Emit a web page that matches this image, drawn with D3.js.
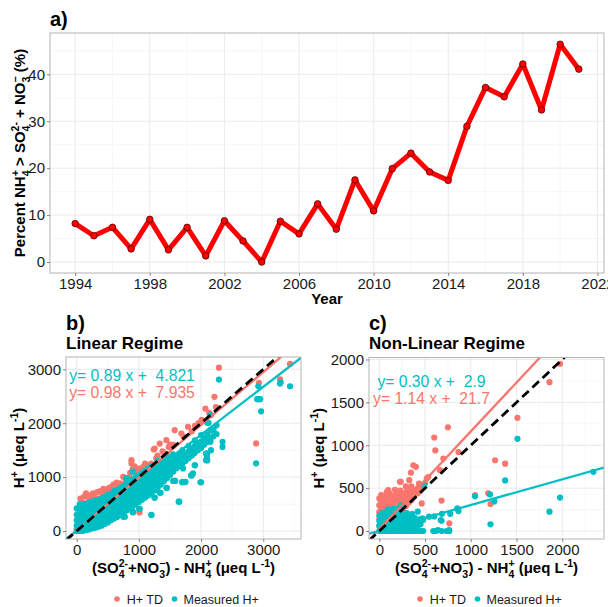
<!DOCTYPE html>
<html>
<head>
<meta charset="utf-8">
<script src="https://cdn.jsdelivr.net/npm/d3@7"></script>
<style>
  body { margin: 0; background: #fff; }
  text { font-family: "Liberation Sans", Arial, sans-serif; white-space: pre; }
</style>
</head>
<body>
<div id="chart"></div>
<script>
// ---- panel a: yearly percentage ----
const years = [1994, 1995, 1996, 1997, 1998, 1999, 2000, 2001, 2002, 2003, 2004, 2005, 2006, 2007,
               2008, 2009, 2010, 2011, 2012, 2013, 2014, 2015, 2016, 2017, 2018, 2019, 2020, 2021];
const percentNH4 = [8.2, 5.6, 7.4, 2.8, 9.1, 2.6, 7.4, 1.3, 8.8, 4.5, 0.0, 8.7, 6.0, 12.4,
                    7.0, 17.5, 10.9, 19.9, 23.2, 19.2, 17.4, 28.9, 37.2, 35.2, 42.2, 32.4, 46.4, 41.1];
const yearTicks = [1994, 1998, 2002, 2006, 2010, 2014, 2018, 2022];
const percentTicks = [0, 10, 20, 30, 40];

// ---- panel b: linear regime ----
const tdLinear = [[0,30],[20,250],[30,330],[50,350],[60,600],[80,390],[100,450],[120,520],[120,640],[150,700],
  [160,480],[180,660],[200,420],[200,600],[225,593],[250,520],[260,700],[280,640],[320,480],[330,720],[350,600],
  [373,512],[380,740],[400,560],[420,680],[430,780],[453,636],[480,760],[500,640],[520,800],[534,728],[560,820],
  [590,860],[600,700],[620,780],[640,900],[650,800],[694,883],[700,760],[748,1006],[780,900],[800,950],
  [850,1000],[860,1080],[881,1315],[881,1253],[900,1150],[930,1200],[950,1100],[988,1160],[1010,345],[1040,1150],
  [1068,1191],[1100,1250],[1122,1222],[1150,1200],[1200,1250],[1239,1512],[1255,1531],[1280,1350],[1300,1400],
  [1335,1623],[1380,1480],[1400,1450],[1442,1685],[1480,1560],[1506,1605],[1550,1600],[1576,1870],[1640,1285],
  [1683,1809],[1720,1750],[1790,1932],[1850,1850],[1900,1950],[1960,2000],[2010,2060],[2070,2270],[2113,1747],
  [2130,2190],[2160,2150],[2215,2490],[2240,2300],[2287,3030],[2885,1625],[2930,2750],[3270,2815],[3430,3100]];
const measLinearCols = [[0,[0,100,200,300,420]],[50,[0,100,200,300,400,500]],[100,[0,100,200,300,400,500]],
  [150,[20,120,220,320,420,500]],[200,[30,130,230,330,430,530]],[250,[50,150,250,350,450,540]],
  [300,[60,160,260,360,460,570]],[350,[80,180,280,380,480,580]],[400,[100,200,300,400,500,610]],
  [450,[130,230,330,430,530,630]],[500,[160,260,360,460,560,670]],[550,[200,300,400,500,600,690]],
  [600,[230,330,430,530,630,740]],[650,[260,360,460,560,660,760]],[700,[300,400,500,600,700,800]],
  [750,[265,340,440,540,640,740,840]],[800,[380,480,580,680,780,880,980]],[850,[420,520,620,720,820,920]],
  [900,[350,460,560,660,760,860,960,1100]],[950,[500,600,700,800,900,1000]],[1000,[410,540,640,740,840,940,1040]],
  [1050,[580,680,780,880,980,1080]],[1100,[620,720,820,920,1020,1120]],[1150,[660,760,860,960,1060,1160]],
  [1200,[300,700,800,900,1000,1100,1200]],[1250,[620,750,850,950,1050,1150]],[1300,[800,900,1000,1100,1200,1300]],
  [1350,[710,860,960,1060,1160,1260]],[1400,[920,1020,1120,1220,1320]],[1450,[800,980,1080,1180,1280,1400]],
  [1500,[1040,1140,1240,1340]],[1550,[930,1100,1200,1300,1420]],[1600,[1160,1260,1360]],[1650,[545,1200,1320,1440]],
  [1700,[910,1250,1380,1500]],[1750,[910,1300,1420]],[1800,[1350,1480,1580]],[1850,[1030,1400,1520]],
  [1900,[1220,1450,1580,1680]],[1950,[1500,1620]],[2000,[905,1540,1660,1780]],[2050,[1600,1720]],
  [2100,[1310,1440,1650,1790,2010]],[2150,[1700,1870,2150]],[2200,[1760,1880]],[2250,[1800,1960]]];
const measLinearExtra = [[2287,2810],[3430,2685],[3270,2735],[3280,2760],[2920,2685],[2900,2445],[2930,2445],
  [2950,2445],[2965,2220],[2885,1255],[2345,1655],[2345,1560],[2140,1698],[2150,1654],[2160,1500],[2078,1438],
  [2078,1315],[1990,905],[1900,1220],[1730,905],[1695,905],[1585,930],[1640,545],[1838,1031],[2120,2006],
  [2158,1870],[1976,1543],[2094,1376],[1870,1480],[1870,1430],[1693,1253],[1202,296],[775,265],[908,350],
  [1015,413],[1255,617],[1335,710],[1442,802],[1870,1068],[1710,1160]];
const linearFits = [{slope: 0.98, icpt: 7.935, label: "y= 0.98 x +  7.935"},
                    {slope: 0.89, icpt: 4.821, label: "y= 0.89 x +  4.821"}];
const linearTicksX = [0, 1000, 2000, 3000];
const linearTicksY = [0, 1000, 2000, 3000];

// ---- panel c: non-linear regime ----
const tdNonLinearCols = [[0,[60,140,220,300,380]],[20,[100,180,260,340,420]],[50,[80,160,240,320,400]],
  [80,[120,200,280,360,450]],[110,[140,220,300,380,440]],[140,[160,240,320,400]],[170,[180,260,340,420,480]],
  [200,[200,280,360,440]],[230,[230,310,390,470]],[260,[260,340,420]],[290,[290,370,450,520]],[320,[330,410,480]],
  [350,[360,440,520]],[380,[400,470]],[420,[440,500]],[450,[470,530]]];
const tdNonLinearExtra = [[1975,1950],[1860,1735],[1510,1320],[750,1210],[600,1090],[612,940],[865,920],[700,845],
  [1265,825],[1375,785],[372,767],[400,748],[345,680],[518,612],[535,630],[226,573],[98,477],[1046,420],[1190,440],
  [1215,315],[680,355],[765,90],[463,322],[663,709],[500,560],[434,554],[327,593],[234,573],[87,457]];
const measNonLinearCols = [[0,[0,60,120,180]],[30,[0,50,100,150,210]],[60,[0,50,100,150,200]],
  [90,[0,50,100,150,200,250]],[120,[0,50,100,150,200]],[150,[0,50,100,150,200,260]],[180,[0,50,100,150,200,250]],
  [210,[0,50,100,150,200,265]],[240,[0,50,100,150,200,300]],[270,[0,50,100,150,200]],[300,[0,50,100,150,210]],
  [330,[0,50,100,160]],[360,[0,40,90,140,200]],[390,[0,50,110,150]],[420,[0,60,120,225]],[450,[0,80,140]],
  [480,[0,130]]];
const measNonLinearExtra = [[1510,1075],[1375,590],[2340,690],[1975,390],[1860,225],[1046,405],[1210,427],
  [1257,345],[1215,78],[865,233],[775,200],[680,120],[684,200],[590,0],[618,0],[682,0],[735,0],[765,0],
  [490,530],[600,170],[543,167],[671,128],[762,12],[640,12],[470,148],[852,264]];
const nonLinearFits = [{slope: 1.14, icpt: 21.7, label: "y= 1.14 x +  21.7"},
                       {slope: 0.30, icpt: 2.9, label: "y= 0.30 x +  2.9"}];
const nonLinearTicksX = [0, 500, 1000, 1500, 2000];
const nonLinearTicksY = [0, 500, 1000, 1500, 2000];

const seriesNames = ["H+ TD", "Measured H+"];
const seriesColors = ["#F8766D", "#00BFC4"];

const flatten = cols => cols.flatMap(([x, ys]) => ys.map(y => [x, y]));

const svg = d3.select("#chart").append("svg")
    .attr("width", 608)
    .attr("height", 607);

// text with stacked sub/superscripts
function rich(text, parts, fs) {
    const small = fs * 0.7, subShift = fs * 0.3, supShift = -fs * 0.42;
    let cur = 0, pad = 0;
    parts.forEach(p => {
        if (typeof p === "string") {
            text.append("tspan").attr("dy", -cur).attr("dx", pad).text(p);
            cur = 0; pad = 0;
        } else {
            const [sb, sp] = p;
            let w = 0;
            if (sb) {
                const t = text.append("tspan").attr("font-size", small).attr("dy", subShift - cur).attr("dx", pad).text(sb);
                cur = subShift; pad = 0;
                w = t.node().getComputedTextLength();
            }
            if (sp) {
                const t = text.append("tspan").attr("font-size", small).attr("dy", supShift - cur).attr("dx", sb ? -w : pad).text(sp);
                cur = supShift;
                const ws = t.node().getComputedTextLength();
                pad = sb ? Math.max(0, w - ws) : 0;
            }
        }
    });
}

function makePanel(id, box, xDom, yDom, xMaj, xMin, yMaj, yMin) {
    const x = d3.scaleLinear().domain(xDom).range([box.l, box.r]);
    const y = d3.scaleLinear().domain(yDom).range([box.b, box.t]);
    const g = svg.append("g");

    g.append("rect")
        .attr("x", box.l).attr("y", box.t)
        .attr("width", box.r - box.l).attr("height", box.b - box.t)
        .attr("fill", "#fff");

    g.selectAll(".vmin").data(xMin).enter().append("line")
        .attr("x1", d => x(d)).attr("x2", d => x(d)).attr("y1", box.t).attr("y2", box.b)
        .attr("stroke", "#F2F2F2").attr("stroke-width", 0.6);
    g.selectAll(".hmin").data(yMin).enter().append("line")
        .attr("y1", d => y(d)).attr("y2", d => y(d)).attr("x1", box.l).attr("x2", box.r)
        .attr("stroke", "#F2F2F2").attr("stroke-width", 0.6);
    g.selectAll(".vmaj").data(xMaj).enter().append("line")
        .attr("x1", d => x(d)).attr("x2", d => x(d)).attr("y1", box.t).attr("y2", box.b)
        .attr("stroke", "#E8E8E8").attr("stroke-width", 0.9);
    g.selectAll(".hmaj").data(yMaj).enter().append("line")
        .attr("y1", d => y(d)).attr("y2", d => y(d)).attr("x1", box.l).attr("x2", box.r)
        .attr("stroke", "#E8E8E8").attr("stroke-width", 0.9);

    svg.append("clipPath").attr("id", id).append("rect")
        .attr("x", box.l).attr("y", box.t)
        .attr("width", box.r - box.l).attr("height", box.b - box.t);
    const plot = g.append("g").attr("clip-path", "url(#" + id + ")");

    return {x, y, g, plot, box, xMaj, yMaj};
}

function finishPanel(p) {
    const {x, y, g, box} = p;
    g.append("rect")
        .attr("x", box.l).attr("y", box.t)
        .attr("width", box.r - box.l).attr("height", box.b - box.t)
        .attr("fill", "none").attr("stroke", "#B3B3B3").attr("stroke-width", 1);

    const xa = g.append("g")
        .attr("transform", "translate(0," + box.b + ")")
        .call(d3.axisBottom(x).tickValues(p.xMaj).tickSize(3).tickPadding(2).tickFormat(d3.format("d")));
    const ya = g.append("g")
        .attr("transform", "translate(" + box.l + ",0)")
        .call(d3.axisLeft(y).tickValues(p.yMaj).tickSize(3).tickPadding(2).tickFormat(d3.format("d")));
    [xa, ya].forEach(a => {
        a.attr("font-size", 15).attr("font-family", "'Liberation Sans', Arial, sans-serif");
        a.select(".domain").remove();
        a.selectAll(".tick line").attr("stroke", "#666").attr("stroke-width", 0.8);
        a.selectAll(".tick text").attr("fill", "#1a1a1a");
    });
}

// ============ panel a ============
const pa = makePanel("clip-a", {l: 50, r: 604, t: 33, b: 273},
    [1992.65, 2022.35], [-2.33, 48.8],
    yearTicks, [1996, 2000, 2004, 2008, 2012, 2016, 2020], percentTicks, [5, 15, 25, 35, 45]);

const lineA = d3.line()
    .x((d, i) => pa.x(years[i]))
    .y(d => pa.y(d));

pa.plot.append("path")
    .datum(percentNH4)
    .attr("d", lineA)
    .attr("fill", "none")
    .attr("stroke", "#FF0000")
    .attr("stroke-width", 5)
    .attr("stroke-linejoin", "round");

pa.plot.selectAll("circle")
    .data(percentNH4)
    .enter()
    .append("circle")
    .attr("cx", (d, i) => pa.x(years[i]))
    .attr("cy", d => pa.y(d))
    .attr("r", 3.3)
    .attr("fill", "#FF0000")
    .attr("stroke", "#3a0000")
    .attr("stroke-width", 0.7);

finishPanel(pa);

svg.append("text").attr("x", 50).attr("y", 26)
    .attr("font-size", 20).attr("font-weight", "bold").text("a)");

rich(svg.append("text")
        .attr("transform", "translate(25,153) rotate(-90)")
        .attr("text-anchor", "middle")
        .attr("font-size", 15).attr("font-weight", "bold"),
    ["Percent NH", ["4", "+"], " > SO", ["4", "2-"], " + NO", ["3", "\u2212"], " (%)"], 15);

svg.append("text").attr("x", 327).attr("y", 304)
    .attr("text-anchor", "middle").attr("font-size", 15).attr("font-weight", "bold").text("Year");

// ============ scatter panels ============
function scatterPanel(cfg) {
    const p = makePanel(cfg.id, cfg.box, cfg.xDom, cfg.yDom, cfg.xMaj, cfg.xMin, cfg.yMaj, cfg.yMin);

    [cfg.td, cfg.meas].forEach((pts, k) => {
        p.plot.append("g").selectAll("circle")
            .data(pts)
            .enter()
            .append("circle")
            .attr("cx", d => p.x(d[0]))
            .attr("cy", d => p.y(d[1]))
            .attr("r", 3.1)
            .attr("fill", seriesColors[k]);
    });

    const [x0, x1] = p.x.domain();
    cfg.fits.forEach((f, k) => {
        p.plot.append("line")
            .attr("x1", p.x(x0)).attr("y1", p.y(f.slope * x0 + f.icpt))
            .attr("x2", p.x(x1)).attr("y2", p.y(f.slope * x1 + f.icpt))
            .attr("stroke", seriesColors[k]).attr("stroke-width", 2.3);
    });

    // 1:1 line
    p.plot.append("line")
        .attr("x1", p.x(x0)).attr("y1", p.y(x0))
        .attr("x2", p.x(x1)).attr("y2", p.y(x1))
        .attr("stroke", "#000").attr("stroke-width", 2.8)
        .attr("stroke-dasharray", "9,5");

    cfg.fits.forEach((f, k) => {
        p.g.append("text")
            .attr("x", p.x(cfg.labelPos[k][0]))
            .attr("y", p.y(cfg.labelPos[k][1]))
            .attr("text-anchor", "middle")
            .attr("font-size", 15.7)
            .attr("fill", seriesColors[k])
            .text(f.label);
    });

    finishPanel(p);

    const b = cfg.box, cx = (b.l + b.r) / 2;
    svg.append("text").attr("x", b.l).attr("y", 329.5)
        .attr("font-size", 20).attr("font-weight", "bold").text(cfg.tag);
    svg.append("text").attr("x", b.l).attr("y", 349.3)
        .attr("font-size", 17).attr("font-weight", "bold").text(cfg.title);

    rich(svg.append("text")
            .attr("transform", "translate(" + cfg.ytitleX + "," + (b.t + b.b) / 2 + ") rotate(-90)")
            .attr("text-anchor", "middle")
            .attr("font-size", 15).attr("font-weight", "bold"),
        ["H", [null, "+"], " (\u03bceq L", [null, "-1"], ")"], 15);

    rich(svg.append("text")
            .attr("x", cx).attr("y", 573)
            .attr("text-anchor", "middle")
            .attr("font-size", 15).attr("font-weight", "bold"),
        ["(SO", ["4", "2-"], "+NO", ["3", "\u2212"], ") - NH", ["4", "+"], " (\u03bceq L", [null, "-1"], ")"], 15);

    // legend
    const lx = cfg.legendX, ly = 599;
    const offs = [[3, 12.7], [60.5, 69.5]];
    seriesNames.forEach((name, k) => {
        svg.append("circle").attr("cx", lx + offs[k][0]).attr("cy", ly).attr("r", 2.8).attr("fill", seriesColors[k]);
        svg.append("text").attr("x", lx + offs[k][1]).attr("y", ly + 4.5)
            .attr("font-size", 12.5).attr("fill", "#1a1a1a").text(name);
    });
}

scatterPanel({
    id: "clip-b", box: {l: 66, r: 301, t: 357, b: 539},
    xDom: [-172, 3607], yDom: [-148, 3228],
    xMaj: linearTicksX, xMin: [500, 1500, 2500, 3500],
    yMaj: linearTicksY, yMin: [500, 1500, 2500],
    td: tdLinear, meas: flatten(measLinearCols).concat(measLinearExtra),
    fits: linearFits, labelPos: [[890, 2463], [890, 2783]],
    tag: "b)", title: "Linear Regime", ytitleX: 24, legendX: 114
});

scatterPanel({
    id: "clip-c", box: {l: 369, r: 604, t: 357.5, b: 539},
    xDom: [-113, 2456], yDom: [-93, 2023],
    xMaj: nonLinearTicksX, xMin: [250, 750, 1250, 1750, 2250],
    yMaj: nonLinearTicksY, yMin: [250, 750, 1250, 1750],
    td: flatten(tdNonLinearCols).concat(tdNonLinearExtra),
    meas: flatten(measNonLinearCols).concat(measNonLinearExtra),
    fits: nonLinearFits, labelPos: [[570, 1477], [570, 1678]],
    tag: "c)", title: "Non-Linear Regime", ytitleX: 324, legendX: 417
});
</script>
</body>
</html>
